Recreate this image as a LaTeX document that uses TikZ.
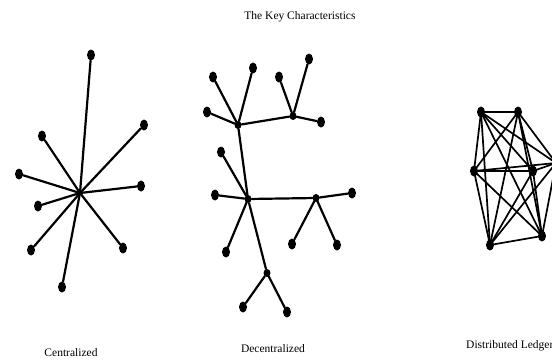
\documentclass[tikz,border=0pt]{standalone}
\usepackage{fontspec}
\setmainfont{Liberation Serif}
\usetikzlibrary{shapes.geometric}
\begin{document}
\begin{tikzpicture}[x=1pt,y=-1pt,
    leaf/.style={ellipse,fill=black,inner sep=0pt,minimum width=8pt,minimum height=11pt},
    hub/.style={ellipse,fill=black,inner sep=0pt,minimum width=7pt,minimum height=8pt},
    link/.style={line width=2.2pt,line cap=round},
    mesh/.style={line width=1.7pt,line cap=round},
    caption/.style={font=\fontsize{11.5}{13}\selectfont,inner sep=0pt}]
  \clip (0,0) rectangle (552,362);
  \fill[white] (0,0) rectangle (552,362);
  % heading
  \node[caption] (title) at (300,17) {The Key Characteristics};
  % centralized: one centre with all leaves on it
  \coordinate (c0) at (80,193);
  \foreach \n/\x/\y in {1/91/55, 2/144/125, 3/42/136, 4/19/174, 5/141/186,
                        6/38/206, 7/31/250, 8/123/248, 9/62/287} {
    \node[leaf] (c\n) at (\x,\y) {};
    \draw[link] (c0) -- (c\n);
  }
  \node[caption] (clab) at (71,353) {Centralized};
  % decentralized: several hubs, each with its own leaves
  \node[hub] (ha) at (238,125) {};
  \node[hub] (hb) at (293,116) {};
  \node[hub] (hc) at (248,199) {};
  \node[hub] (hd) at (316,198) {};
  \node[hub] (he) at (267,273) {};
  \draw[link] (ha) -- (hb);
  \draw[link] (ha) -- (hc);
  \draw[link] (hc) -- (hd);
  \draw[link] (hc) -- (he);
  \foreach \h/\n/\x/\y in {ha/1/213/77, ha/2/253/68, ha/3/207/112,
                           hb/4/279/77, hb/5/309/59, hb/6/321/122,
                           hc/7/221/152, hc/8/215/195, hc/9/226/252,
                           hd/10/352/193, hd/11/292/244, hd/12/337/245,
                           he/13/243/307, he/14/287/312} {
    \node[leaf] (d\n) at (\x,\y) {};
    \draw[link] (\h) -- (d\n);
  }
  \node[caption] (dlab) at (273,349) {Decentralized};
  % distributed ledger: every node linked to every other
  \foreach \n/\x/\y in {1/481/112, 2/518/112, 3/474/171, 4/533/171,
                        5/556/163, 6/490/245, 7/542/236} {
    \node[leaf] (g\n) at (\x,\y) {};
  }
  \foreach \a in {1,...,7} {
    \foreach \b in {1,...,7} {
      \ifnum\a<\b
        \draw[mesh] (g\a.center) -- (g\b.center);
      \fi
    }
  }
  \node[caption,anchor=west] (glab) at (466,346) {Distributed Ledger};
\end{tikzpicture}
\end{document}
